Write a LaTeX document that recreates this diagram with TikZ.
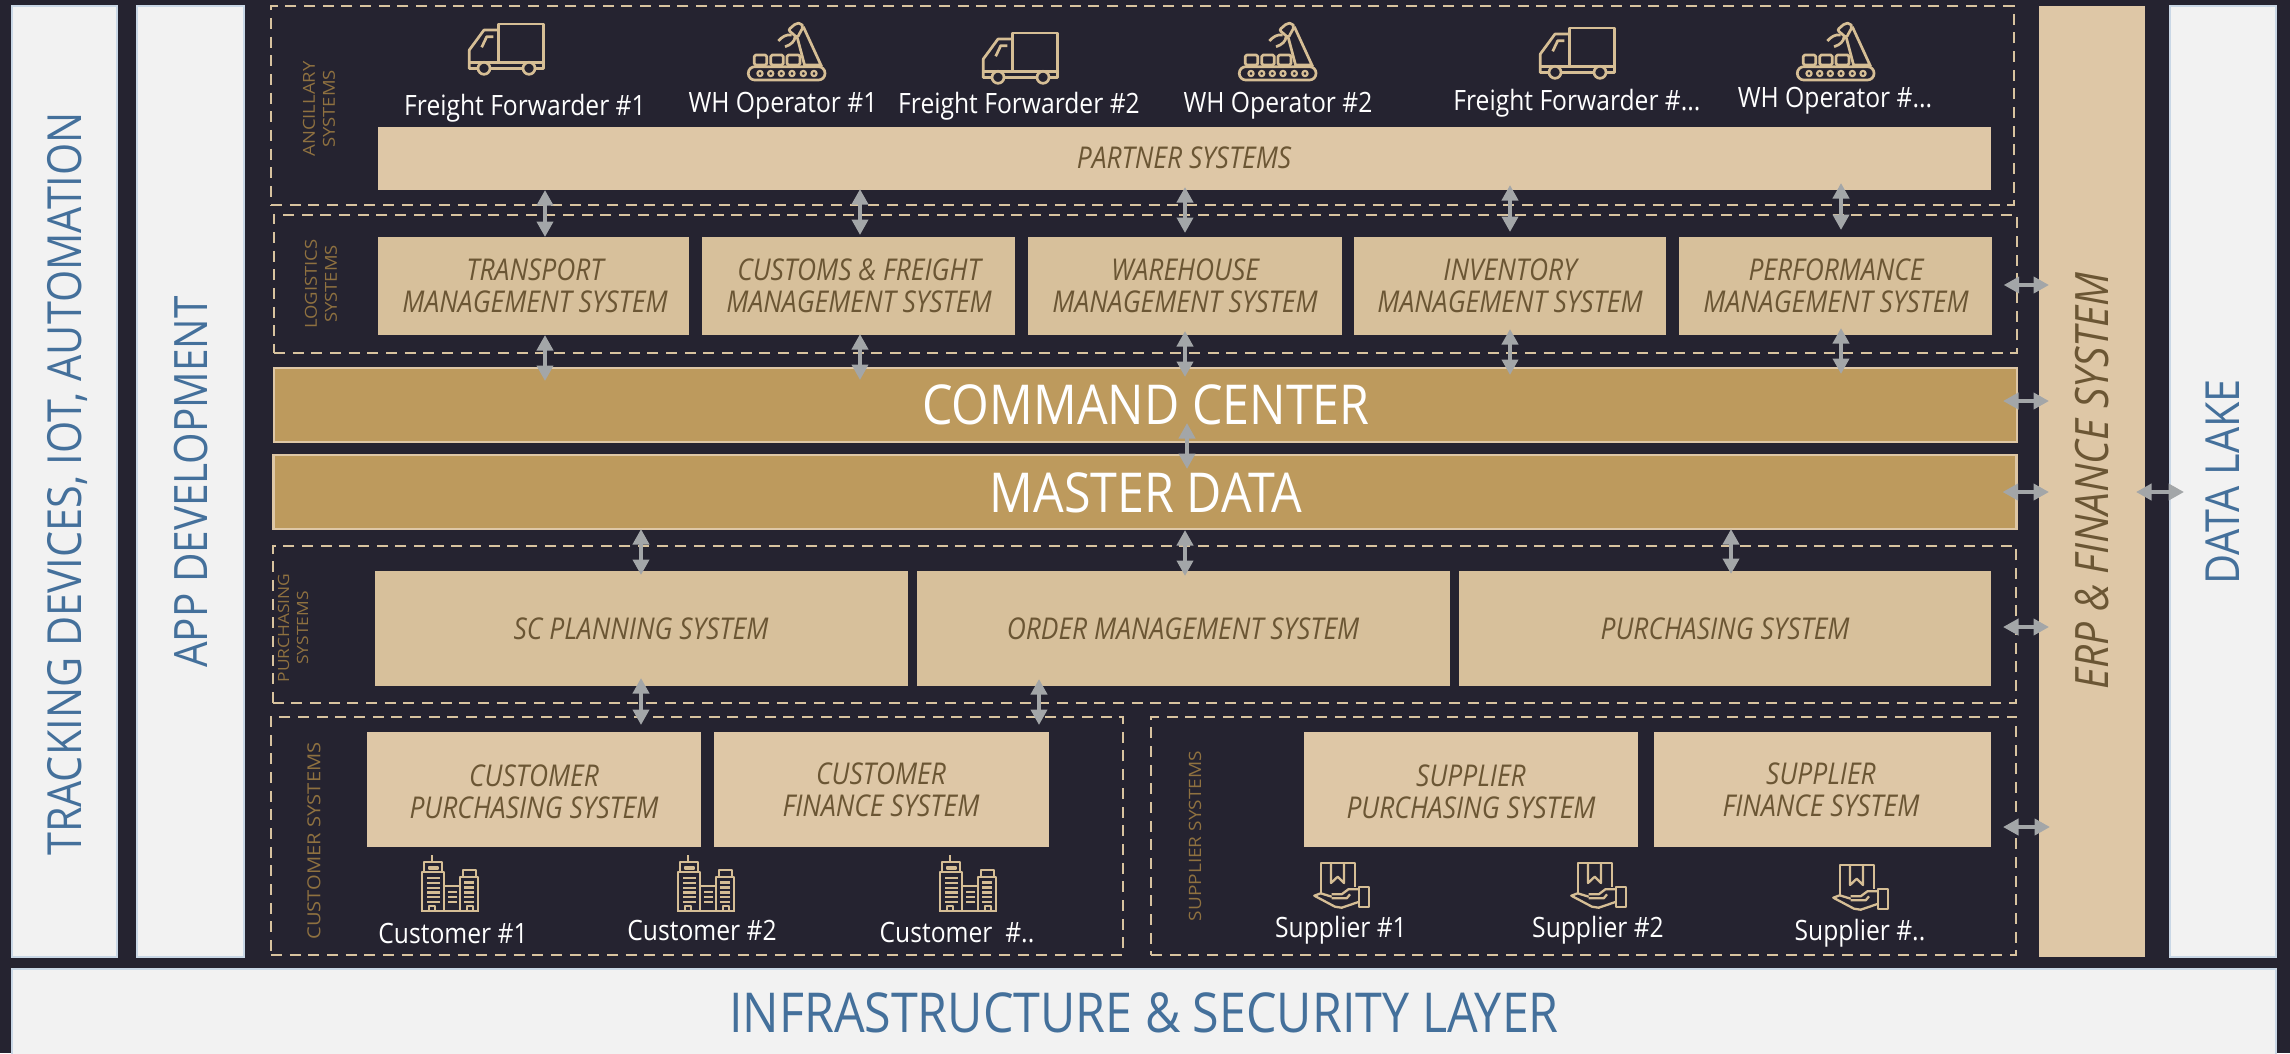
\documentclass[tikz,border=0pt]{standalone}
\usepackage{fontspec}
\usetikzlibrary{arrows.meta}
\setmainfont{Open Sans}
\newfontfamily\osn[FakeStretch=.88]{Open Sans}
\newfontfamily\osw[FakeStretch=1.12]{Open Sans}
\definecolor{bgd}{HTML}{252330}
\definecolor{tan}{HTML}{DEC7A6}
\definecolor{tanb}{HTML}{D7C09B}
\definecolor{gold}{HTML}{BD9A5D}
\definecolor{brn}{HTML}{6B5634}
\definecolor{lbl}{HTML}{8F7140}
\definecolor{pnl}{HTML}{F2F2F2}
\definecolor{pbd}{HTML}{C9D7E6}
\definecolor{blu}{HTML}{44709B}
\definecolor{gry}{HTML}{A3A6A8}
\definecolor{dsh}{HTML}{D8C39F}
\definecolor{ico}{HTML}{D6BE95}
\tikzset{
 panel/.style={fill=pnl,draw=pbd,line width=2pt,text=blu,inner sep=0pt,outer sep=0pt},
 sys/.style={fill=tan,inner sep=0pt,outer sep=0pt,text=brn,align=center,font=\osn\itshape\fontsize{30}{32}\selectfont},
 sysb/.style={sys,fill=tanb},
 band/.style={fill=gold,draw=tan,line width=2.5pt,inner sep=0pt,outer sep=0pt,text=white,font=\osn\fontsize{55}{60}\selectfont},
 zone/.style={draw=dsh,line width=2.4pt,dash pattern=on 11pt off 7.67pt,inner sep=0pt,outer sep=0pt},
 zlab/.style={text=lbl,align=center,rotate=90,inner sep=0pt,font=\osw\fontsize{16.5}{20}\selectfont},
 who/.style={text=white,inner sep=0pt,font=\osn\fontsize{28}{30}\selectfont},
 bi/.style={{Triangle[length=15.5pt,width=16pt]}-{Triangle[length=15.5pt,width=16pt]},draw=gry,line width=4.5pt},
 ic/.style={draw=ico,line width=2.7pt,line join=round},
 truckicon/.pic={
  \draw[ic] (29.3,40)--(29.3,1)--(74.3,1)--(74.3,45.5)--(66,45.5);
  \draw[ic] (29.3,7)--(15,7)--(0.3,27)--(0.3,45.5)--(9,45.5);
  \draw[ic] (0.3,39.8)--(74.3,39.8) (21,45.5)--(54,45.5);
  \draw[ic] (24.3,13.7)--(17.7,13.7)--(12.7,24.3);
  \draw[ic,fill=bgd] (15,45.3) circle (6) (60,45.3) circle (6);},
 roboticon/.pic={
  \draw[ic,rounded corners=6.5pt] (-0.7,43.7) rectangle (76,57);
  \foreach \k in {11,21.7,32.3,43,54.3,65}{\draw[ic,line width=2.2pt] (\k,50.5) circle (2.6);}
  \draw[ic,rounded corners=1.5pt] (5.3,32) rectangle (17.7,42);
  \draw[ic,rounded corners=1.5pt] (21.7,32) rectangle (34.3,42);
  \draw[ic,rounded corners=1.5pt] (38,32) rectangle (51,42);
  \draw[ic] (56,43.7)--(48.3,14.7) (72.7,43.7)--(54.3,3.7) (56,42)--(72.7,42);
  \draw[ic,rounded corners=2pt] (39.3,7)--(47,0.3)--(52,0.3)--(54.3,3.7)--(48.3,14.7)--cycle;
  \draw[ic] (42.7,12) .. controls (37,11) and (33,14) .. (29.3,18);
  \draw[ic] (46,13.7) .. controls (46,18) and (42,22) .. (36,23.7);},
 bldicon/.pic={
  \draw[ic,line width=2.3pt] (-0.5,56)--(57.5,56);
  \draw[ic,line width=2.3pt] (0.7,56)--(0.7,17.3)--(23.3,17.3)--(23.3,56) (3.3,17.3)--(3.3,6.7)--(21.3,6.7)--(21.3,17.3) (11.3,6.7)--(11.3,0);
  \draw[ic,line width=2pt] (8,11.7) rectangle (17.3,14.3);
  \foreach \k in {22.7,28,32.7,37.3,42,46.7}{\draw[ic,line width=2.4pt] (6.3,\k)--(19,\k);}
  \draw[ic,line width=2.3pt] (8,56)--(8,50.7)--(14,50.7)--(14,56);
  \draw[ic,line width=2.3pt] (23.3,30.7)--(39,30.7);
  \foreach \k in {36.7,41.7,46.7}{\draw[ic,line width=2.4pt] (27.3,\k)--(35.7,\k);}
  \draw[ic,line width=2.3pt] (39,56)--(39,22.3)--(57.3,22.3)--(57.3,56) (41.7,22.3)--(41.7,15)--(54.7,15)--(54.7,22.3);
  \foreach \k in {27.3,32.3,37.3,42,46.7}{\draw[ic,line width=2.4pt] (43.3,\k)--(53,\k);}
  \draw[ic,line width=2.3pt] (46.3,56)--(46.3,50.7)--(52.3,50.7)--(52.3,56);},
 handicon/.pic={
  \draw[ic,line width=2.3pt] (6.7,30)--(6.7,0.3)--(41,0.3)--(41,23.7);
  \draw[ic,line width=2.3pt] (17,0.3)--(17,20)--(23.7,13.7)--(30,20)--(30,0.3);
  \draw[ic,line width=2.3pt] (45.3,23.7) rectangle (55,43.7);
  \draw[ic,line width=2.3pt] (45.3,26.3)--(34.3,26.3)--(27.7,31.3)--(17.7,31.3);
  \draw[ic,line width=2.3pt] (17.7,33.7)--(6.7,30.3)--(0.3,32.7)--(21,43.7)--(27.7,44.7)--(45.3,38.7);
  \draw[ic,line width=2.3pt] (17.7,35.3)--(32.7,35.3)--(36,31.3);}
}
\newcommand{\bx}[6][sys]{\node[#1,minimum width={(#5-#3)*1pt},minimum height={(#6-#4)*1pt}] (#2) at ({(#3+#5)/2},{(#4+#6)/2}) {};}
\newcommand{\zn}[5]{\node[zone,minimum width={(#4-#2)*1pt},minimum height={(#5-#3)*1pt}] (#1) at ({(#2+#4)/2},{(#3+#5)/2}) {};}
\begin{document}
\begin{tikzpicture}[x=1pt,y=-1pt]
\useasboundingbox (0,0) rectangle (2290,1053);
\fill[bgd] (0,0) rectangle (2290,1053);
% side panels
\node[panel,minimum width=105pt,minimum height=951pt] (track) at (64.5,481.5) {};
\node[panel,minimum width=107pt,minimum height=951pt] (app) at (190.5,481.5) {};
\node[panel,minimum width=106pt,minimum height=951pt] (lake) at (2223,481.5) {};
\node[fill=tan,minimum width=106pt,minimum height=951pt,inner sep=0pt,outer sep=0pt] (erp) at (2092,481.5) {};
\node[panel,minimum width=2264pt,minimum height=88pt] (infra) at (1144,1013) {};
\node[rotate=90,text=blu,inner sep=0pt,font=\osn\fontsize{47}{50}\selectfont] (tracktx) at (67,484) {TRACKING DEVICES, IOT, AUTOMATION};
\node[rotate=90,text=blu,inner sep=0pt,font=\osn\fontsize{46}{50}\selectfont] (apptx) at (191,482) {APP DEVELOPMENT};
\node[rotate=90,text=blu,inner sep=0pt,font=\osn\fontsize{47}{50}\selectfont] (laketx) at (2223,482) {DATA LAKE};
\node[rotate=90,text=brn,inner sep=0pt,font=\osn\itshape\fontsize{46}{50}\selectfont] (erptx) at (2092,481) {ERP \& FINANCE SYSTEM};
\node[text=blu,inner sep=0pt,font=\osn\fontsize{55}{60}\selectfont] (infratx) at (1144,1013) {INFRASTRUCTURE \& SECURITY LAYER};
% zones
\zn{zanc}{271}{6}{2014}{204.7}
\zn{zlog}{274}{214.7}{2016.7}{352.7}
\zn{zpur}{272.7}{545.7}{2016}{702.7}
\zn{zcus}{271}{716.7}{1123}{955}
\zn{zsup}{1151}{716.7}{2016}{955}
\node[zlab] (lanc) at (319,109) {ANCILLARY\\SYSTEMS};
\node[zlab] (llog) at (321,284) {LOGISTICS\\SYSTEMS};
\node[zlab,font=\osw\fontsize{15.5}{19}\selectfont] (lpur) at (293,628) {PURCHASING\\SYSTEMS};
\node[zlab,font=\osw\fontsize{18}{20}\selectfont] (lcus) at (314,841) {CUSTOMER SYSTEMS};
\node[zlab,font=\osw\fontsize{17}{20}\selectfont] (lsup) at (1195,836) {SUPPLIER SYSTEMS};
% partner
\bx{partner}{378}{127}{1991}{190}
\node[sys,fill=none] (partnertx) at (1184,158) {PARTNER SYSTEMS};
% logistics
\bx[sysb]{tms}{378}{237}{689}{335}
\bx[sysb]{cfm}{702}{237}{1015}{335}
\bx[sysb]{wms}{1028}{237}{1342}{335}
\bx[sysb]{ims}{1354}{237}{1666}{335}
\bx[sysb]{pms}{1679}{237}{1992}{335}
\node[sys,fill=none] (tmstx) at (535,286) {TRANSPORT\\MANAGEMENT SYSTEM};
\node[sys,fill=none] (cfmtx) at (859,286) {CUSTOMS \& FREIGHT\\MANAGEMENT SYSTEM};
\node[sys,fill=none] (wmstx) at (1185,286) {WAREHOUSE\\MANAGEMENT SYSTEM};
\node[sys,fill=none] (imstx) at (1510,286) {INVENTORY\\MANAGEMENT SYSTEM};
\node[sys,fill=none] (pmstx) at (1836,286) {PERFORMANCE\\MANAGEMENT SYSTEM};
% bands
\node[band,minimum width=1743pt,minimum height=74pt] (cmd) at (1145.5,405) {};
\node[band,minimum width=1743pt,minimum height=74pt] (mst) at (1145,492) {};
\node[band,fill=none,draw=none] (cmdtx) at (1146,405) {COMMAND CENTER};
\node[band,fill=none,draw=none] (msttx) at (1146,493) {MASTER DATA};
% purchasing
\bx[sysb]{scp}{375}{571}{908}{686}
\bx[sysb]{oms}{917}{571}{1450}{686}
\bx[sysb]{pur}{1459}{571}{1991}{686}
\node[sys,fill=none] (scptx) at (641,629) {SC PLANNING SYSTEM};
\node[sys,fill=none] (omstx) at (1183,629) {ORDER MANAGEMENT SYSTEM};
\node[sys,fill=none] (purtx) at (1725,629) {PURCHASING SYSTEM};
% customers, suppliers
\bx{cps}{367}{732}{701}{847}
\bx{cfs}{714}{732}{1049}{847}
\bx{sps}{1304}{732}{1638}{847}
\bx{sfs}{1654}{732}{1991}{847}
\node[sys,fill=none] (cpstx) at (534,792) {CUSTOMER\\PURCHASING SYSTEM};
\node[sys,fill=none] (cfstx) at (881,790) {CUSTOMER\\FINANCE SYSTEM};
\node[sys,fill=none] (spstx) at (1471,792) {SUPPLIER\\PURCHASING SYSTEM};
\node[sys,fill=none] (sfstx) at (1821,790) {SUPPLIER\\FINANCE SYSTEM};
% icons
\pic at (469,23) {truckicon};
\pic at (983,32) {truckicon};
\pic at (1540,27) {truckicon};
\pic at (749,23) {roboticon};
\pic at (1240,23) {roboticon};
\pic at (1798,23) {roboticon};
\pic at (421,855) {bldicon};
\pic at (677,855) {bldicon};
\pic at (939,855) {bldicon};
\pic at (1314,863) {handicon};
\pic at (1571,863) {handicon};
\pic at (1833,865) {handicon};
% names
\node[who] (f1) at (525,108) {Freight Forwarder \#1};
\node[who] (w1) at (783,106) {WH Operator \#1};
\node[who] (f2) at (1019,106) {Freight Forwarder \#2};
\node[who] (w2) at (1278,106) {WH Operator \#2};
\node[who] (f3) at (1577,103) {Freight Forwarder \#...};
\node[who] (w3) at (1835,101) {WH Operator \#...};
\node[who] (c1) at (453,933) {Customer \#1};
\node[who] (c2) at (702,930) {Customer \#2};
\node[who] (c3) at (957,933) {Customer\ \ \#..};
\node[who] (s1) at (1341,930) {Supplier \#1};
\node[who] (s2) at (1598,930) {Supplier \#2};
\node[who] (s3) at (1860,933) {Supplier \#..};
% arrows
\coordinate (a1) at (545,0);
\coordinate (a2) at (860,0);
\coordinate (a3) at (1185,0);
\coordinate (a4) at (1510,0);
\coordinate (a5) at (1841,0);
\coordinate (a6) at (641,0);
\coordinate (a7) at (1731,0);
\coordinate (a8) at (1039,0);
\coordinate (a9) at (1187,0);
\coordinate (h1) at (0,285);
\coordinate (h2) at (0,401);
\coordinate (h3) at (0,492);
\coordinate (h4) at (0,627);
\coordinate (h5) at (0,827);
\draw[bi] (partner.south -| a1) -- (tms.north -| a1);
\draw[bi,shorten <=-1pt,shorten >=2pt] (partner.south -| a2) -- (cfm.north -| a2);
\draw[bi,shorten <=-3pt,shorten >=4pt] (partner.south -| a3) -- (wms.north -| a3);
\draw[bi,shorten <=-5pt,shorten >=5pt] (partner.south -| a4) -- (ims.north -| a4);
\draw[bi,shorten <=-7pt,shorten >=7pt] (partner.south -| a5) -- (pms.north -| a5);
\draw[bi,shorten >=-13pt] (tms.south -| a1) -- (cmd.north -| a1);
\draw[bi,shorten <=-1pt,shorten >=-12pt] (cfm.south -| a2) -- (cmd.north -| a2);
\draw[bi,shorten <=-4pt,shorten >=-9pt] (wms.south -| a3) -- (cmd.north -| a3);
\draw[bi,shorten <=-6pt,shorten >=-7pt] (ims.south -| a4) -- (cmd.north -| a4);
\draw[bi,shorten <=-7pt,shorten >=-6pt] (pms.south -| a5) -- (cmd.north -| a5);
\draw[bi,shorten <=-19pt,shorten >=-14pt] (cmd.south -| a9) -- (mst.north -| a9);
\draw[bi,shorten >=-4pt] (mst.south -| a6) -- (scp.north -| a6);
\draw[bi,shorten <=1pt,shorten >=-5pt] (mst.south -| a3) -- (oms.north -| a3);
\draw[bi,shorten >=-3pt] (mst.south -| a7) -- (pur.north -| a7);
\draw[bi,shorten <=-8pt,shorten >=7pt] (scp.south -| a6) -- (cps.north -| a6);
\draw[bi,shorten <=-7pt,shorten >=7pt] (oms.south -| a8) -- (cfs.north -| a8);
\draw[bi,shorten <=-13pt,shorten >=-10pt] (zlog.east |- h1) -- (erp.west |- h1);
\draw[bi,shorten <=-14pt,shorten >=-10pt] (cmd.east |- h2) -- (erp.west |- h2);
\draw[bi,shorten <=-14pt,shorten >=-10pt] (mst.east |- h3) -- (erp.west |- h3);
\draw[bi,shorten <=-13pt,shorten >=-10pt] (zpur.east |- h4) -- (erp.west |- h4);
\draw[bi,shorten <=-13pt,shorten >=-11pt] (zsup.east |- h5) -- (erp.west |- h5);
\draw[bi,shorten <=-9pt,shorten >=-14pt] (erp.east |- h3) -- (lake.west |- h3);
\end{tikzpicture}
\end{document}
